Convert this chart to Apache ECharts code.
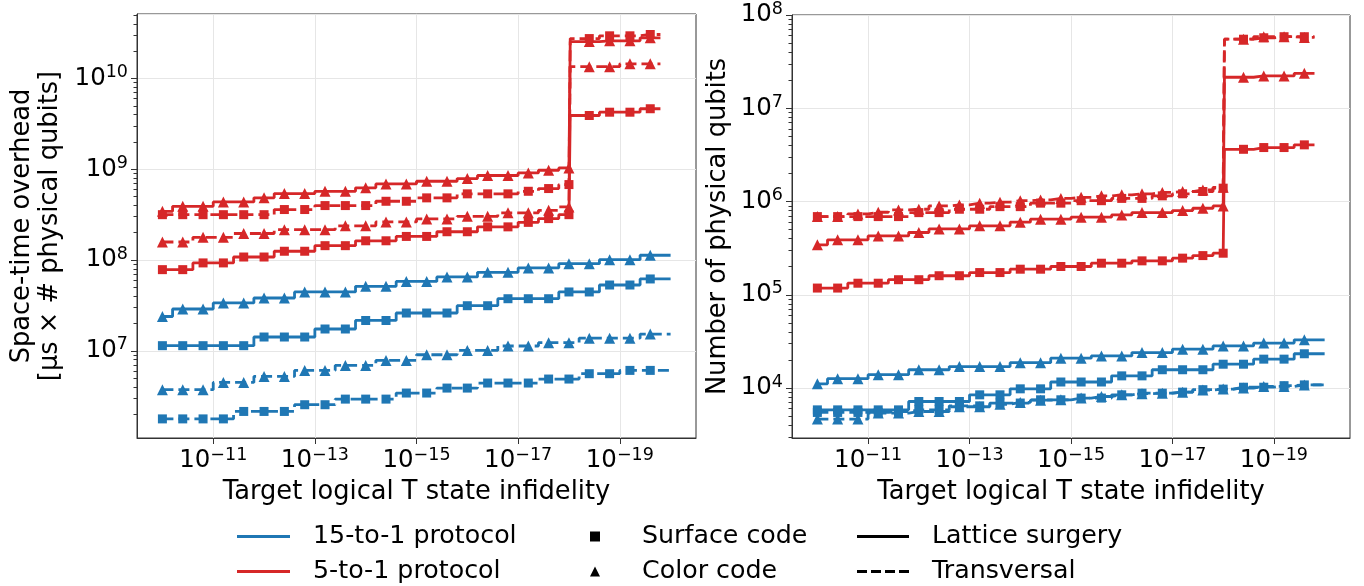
<!DOCTYPE html>
<html>
<head>
<meta charset="utf-8">
<script src="https://cdn.jsdelivr.net/npm/echarts@6/dist/echarts.min.js"></script>
<style>
  html, body { margin: 0; padding: 0; background: #fff; }
  #chart { width: 1364px; height: 586px; }
</style>
</head>
<body>
<div id="chart"></div>
<script>
// Target logical T state infidelity, as exponents e (infidelity = 10^e), at the marker positions
const infidelityExp = [-10, -10.4, -10.8, -11.2, -11.6, -12, -12.4, -12.8, -13.2, -13.6, -14, -14.4, -14.8,
  -15.2, -15.6, -16, -16.4, -16.8, -17.2, -17.6, -18, -18.4, -18.8, -19.2, -19.6];
const jumpExp = -18.05;      // 5-to-1 curves switch branch just past 1e-18
const lastExp15 = -20;       // 15-to-1 curves run out to 1e-20
const lastExp5 = -19.8;      // 5-to-1 curves stop slightly earlier
const xTickExp = [-11, -13, -15, -17, -19];

// Space-time overhead [µs × # physical qubits]
const st15SurfaceLS = [1.14e7, 1.14e7, 1.14e7, 1.14e7, 1.14e7, 1.42e7, 1.42e7, 1.42e7, 1.74e7, 1.74e7, 2.16e7, 2.16e7,
  2.61e7, 2.61e7, 2.61e7, 3.14e7, 3.14e7, 3.75e7, 3.75e7, 3.75e7, 4.45e7, 4.45e7, 5.31e7, 5.31e7, 6.19e7];
const st15ColorLS = [2.39e7, 2.89e7, 2.89e7, 3.37e7, 3.37e7, 3.82e7, 3.82e7, 4.45e7, 4.45e7, 4.45e7, 5.13e7, 5.13e7,
  5.82e7, 5.82e7, 6.51e7, 6.51e7, 7.33e7, 7.33e7, 8.19e7, 8.19e7, 9.12e7, 9.12e7, 1.01e8, 1.01e8, 1.13e8];
const st15SurfaceTV = [1.78e6, 1.78e6, 1.78e6, 1.78e6, 2.15e6, 2.15e6, 2.15e6, 2.55e6, 2.55e6, 2.94e6, 2.94e6, 2.94e6,
  3.43e6, 3.43e6, 3.89e6, 3.89e6, 4.42e6, 4.42e6, 4.42e6, 4.89e6, 4.89e6, 5.6e6, 5.6e6, 6.09e6, 6.09e6];
const st15ColorTV = [3.73e6, 3.73e6, 3.73e6, 4.49e6, 4.49e6, 5.23e6, 5.23e6, 6.09e6, 6.09e6, 6.91e6, 6.91e6, 7.84e6,
  7.84e6, 9.06e6, 9.06e6, 1.01e7, 1.01e7, 1.13e7, 1.13e7, 1.23e7, 1.23e7, 1.38e7, 1.38e7, 1.38e7, 1.53e7];
const st5SurfaceLS = [7.84e7, 7.84e7, 9.3e7, 9.3e7, 1.08e8, 1.08e8, 1.25e8, 1.25e8, 1.44e8, 1.44e8, 1.63e8, 1.63e8,
  1.82e8, 1.82e8, 2.05e8, 2.05e8, 2.32e8, 2.32e8, 2.6e8, 2.86e8, 3.16e8, 3.91e9, 4.25e9, 4.25e9, 4.64e9];
const st5ColorLS = [3.44e8, 3.91e8, 3.91e8, 4.37e8, 4.37e8, 4.84e8, 5.4e8, 5.4e8, 5.72e8, 5.72e8, 6.24e8, 6.9e8,
  6.9e8, 7.38e8, 7.38e8, 7.9e8, 8.53e8, 8.53e8, 9.12e8, 9.75e8, 1.035e9, 2.55e10, 2.6e10, 2.6e10, 2.8e10];
const st5SurfaceTV = [3.16e8, 3.16e8, 3.16e8, 3.16e8, 3.16e8, 3.16e8, 3.6e8, 3.6e8, 3.98e8, 3.98e8, 3.98e8, 4.44e8,
  4.44e8, 4.84e8, 4.84e8, 5.36e8, 5.36e8, 5.36e8, 5.72e8, 6.13e8, 6.78e8, 2.75e10, 2.95e10, 2.95e10, 3.05e10];
const st5ColorTV = [1.58e8, 1.58e8, 1.78e8, 1.78e8, 1.96e8, 1.96e8, 2.16e8, 2.16e8, 2.16e8, 2.38e8, 2.38e8, 2.63e8,
  2.63e8, 2.84e8, 2.84e8, 3.03e8, 3.03e8, 3.31e8, 3.31e8, 3.53e8, 3.85e8, 1.35e10, 1.35e10, 1.45e10, 1.45e10];

// Number of physical qubits
const nq15SurfaceLS = [5.83e3, 5.83e3, 5.83e3, 5.83e3, 5.83e3, 7.17e3, 7.17e3, 7.17e3, 8.45e3, 8.45e3, 9.8e3, 9.8e3,
  1.16e4, 1.16e4, 1.16e4, 1.35e4, 1.35e4, 1.57e4, 1.57e4, 1.57e4, 1.8e4, 1.8e4, 2.04e4, 2.04e4, 2.33e4];
const nq15ColorLS = [1.11e4, 1.26e4, 1.26e4, 1.39e4, 1.39e4, 1.57e4, 1.57e4, 1.7e4, 1.7e4, 1.7e4, 1.87e4, 1.87e4,
  2.09e4, 2.09e4, 2.21e4, 2.21e4, 2.4e4, 2.4e4, 2.61e4, 2.61e4, 2.83e4, 2.83e4, 3.03e4, 3.03e4, 3.29e4];
const nq15SurfaceTV = [5.47e3, 5.47e3, 5.47e3, 5.47e3, 5.6e3, 5.83e3, 5.83e3, 6.44e3, 6.44e3, 6.9e3, 6.9e3, 7.48e3,
  7.48e3, 7.8e3, 7.8e3, 8.45e3, 8.81e3, 8.81e3, 9.03e3, 9.6e3, 9.73e3, 1.02e4, 1.02e4, 1.06e4, 1.08e4];
const nq15ColorTV = [4.64e3, 4.64e3, 4.64e3, 5.38e3, 5.38e3, 5.6e3, 5.6e3, 6.3e3, 6.3e3, 6.7e3, 7.0e3, 7.4e3,
  7.48e3, 7.8e3, 8.11e3, 8.45e3, 8.7e3, 8.81e3, 9.03e3, 9.5e3, 9.73e3, 1.0e4, 1.04e4, 1.04e4, 1.08e4];
const nq5SurfaceLS = [1.18e5, 1.18e5, 1.33e5, 1.33e5, 1.45e5, 1.45e5, 1.6e5, 1.6e5, 1.73e5, 1.73e5, 1.88e5, 1.88e5,
  2.01e5, 2.01e5, 2.18e5, 2.18e5, 2.31e5, 2.31e5, 2.47e5, 2.63e5, 2.79e5, 3.63e6, 3.79e6, 3.79e6, 4.05e6];
const nq5ColorLS = [3.43e5, 3.88e5, 3.88e5, 4.27e5, 4.27e5, 4.65e5, 5.08e5, 5.08e5, 5.48e5, 5.48e5, 6.0e5, 6.46e5,
  6.46e5, 6.79e5, 6.79e5, 7.18e5, 7.6e5, 7.6e5, 8.0e5, 8.47e5, 8.97e5, 2.15e7, 2.22e7, 2.22e7, 2.37e7];
const nq5SurfaceTV = [6.89e5, 6.89e5, 6.89e5, 6.89e5, 6.89e5, 7.6e5, 7.6e5, 8.26e5, 8.26e5, 8.81e5, 8.81e5, 9.6e5,
  9.6e5, 1.02e6, 1.02e6, 1.08e6, 1.08e6, 1.15e6, 1.21e6, 1.28e6, 1.39e6, 5.5e7, 5.7e7, 5.85e7, 5.85e7];
const nq5ColorTV = [6.89e5, 6.89e5, 7.36e5, 7.67e5, 8.13e5, 8.26e5, 8.97e5, 9.2e5, 9.6e5, 9.84e5, 1.02e6, 1.04e6,
  1.08e6, 1.11e6, 1.15e6, 1.18e6, 1.21e6, 1.25e6, 1.28e6, 1.33e6, 1.42e6, 5.5e7, 5.85e7, 5.85e7, 5.75e7];

const FONT = 'DejaVu Sans';
const BLUE = '#1f77b4';
const RED = '#d62728';
const AXIS = '#333';
const GRIDLINE = '#e6e6e6';
const TITLE_SIZE = 25.7;
const LEGEND_SIZE = 25.3;

const tickRich = {
  b: { fontSize: 24.5, fontFamily: FONT, color: '#000', lineHeight: 30 },
  s: { fontSize: 17.5, fontFamily: FONT, color: '#000', lineHeight: 20, verticalAlign: 'top' }
};
function powLabel(exp) {
  return '{b|10}{s|' + (exp < 0 ? '\u2212' + (-exp) : exp) + '}';
}
function minorTicks(lo, hi) {
  const out = [];
  for (let n = Math.floor(lo); n <= Math.ceil(hi); n++) {
    for (let k = 2; k <= 9; k++) {
      const t = n + Math.log10(k);
      if (t > lo && t < hi) out.push(t);
    }
  }
  return out;
}

function curve(values, grid, protocol, code, scheme) {
  const color = protocol === '15-to-1' ? BLUE : RED;
  const pts = values.map((v, i) => [infidelityExp[i], v]);
  if (protocol === '5-to-1') pts.splice(21, 0, { value: [jumpExp, values[21]], symbol: 'none' });
  pts.push({ value: [protocol === '15-to-1' ? lastExp15 : lastExp5, values[values.length - 1]], symbol: 'none' });
  return {
    type: 'line',
    name: protocol + ' / ' + code + ' / ' + scheme,
    xAxisIndex: grid,
    yAxisIndex: grid * 3,
    data: pts,
    step: 'middle',
    symbol: code === 'surface' ? 'rect' : 'triangle',
    symbolSize: code === 'surface' ? 9 : 11,
    lineStyle: { width: 2.8, color: color, type: scheme === 'LS' ? 'solid' : [11, 5] },
    itemStyle: { color: color },
    emphasis: { disabled: true },
    z: protocol === '15-to-1' ? 3 : 4
  };
}

function xAxisFor(grid) {
  return {
    type: 'value', gridIndex: grid, min: -20.5, max: -9.5, inverse: true,
    name: 'Target logical T state infidelity', nameLocation: 'middle', nameGap: 34,
    nameTextStyle: { fontSize: TITLE_SIZE, fontFamily: FONT, color: '#000', lineHeight: 28 },
    axisLine: { show: true, onZero: false, lineStyle: { color: AXIS } },
    axisTick: { show: true, customValues: xTickExp, length: 6, lineStyle: { color: AXIS } },
    axisLabel: { customValues: xTickExp, margin: 8, formatter: v => powLabel(v), rich: tickRich },
    splitLine: { show: true, lineStyle: { color: GRIDLINE, width: 1 } }
  };
}

function yAxesFor(grid, lo, hi, major, name, nameGap, showMax) {
  const plain = { axisLine: { show: false }, axisLabel: { show: false }, splitLine: { show: false } };
  return [
    {
      type: 'log', logBase: 10, gridIndex: grid, min: Math.pow(10, lo), max: Math.pow(10, hi),
      name: name, nameLocation: 'middle', nameRotate: 90, nameGap: nameGap,
      nameTextStyle: { fontSize: TITLE_SIZE, fontFamily: FONT, color: '#000', lineHeight: 28 },
      axisLine: { show: true, lineStyle: { color: AXIS } },
      axisTick: { show: false },
      axisLabel: {
        margin: 9, showMinLabel: false, showMaxLabel: showMax,
        formatter: v => powLabel(Math.round(Math.log10(v))), rich: tickRich
      },
      splitLine: { show: true, lineStyle: { color: GRIDLINE, width: 1 } }
    },
    Object.assign({ type: 'value', gridIndex: grid, min: lo, max: hi, position: 'left',
      axisTick: { show: true, customValues: major, length: 6, lineStyle: { color: AXIS } } }, plain),
    Object.assign({ type: 'value', gridIndex: grid, min: lo, max: hi, position: 'left',
      axisTick: { show: true, customValues: minorTicks(lo, hi), length: 3.5, lineStyle: { color: AXIS } } }, plain)
  ];
}

// Placeholder series so the three legend blocks have entries to show
const legendKeys = [
  { name: '15-to-1 protocol', color: BLUE },
  { name: '5-to-1 protocol', color: RED },
  { name: 'Surface code', color: '#000' },
  { name: 'Color code', color: '#000' },
  { name: 'Lattice surgery', color: '#000' },
  { name: 'Transversal', color: '#000' }
].map(k => ({ type: 'line', name: k.name, data: [], xAxisIndex: 0, yAxisIndex: 0,
  itemStyle: { color: k.color }, lineStyle: { color: k.color } }));

function legendText(padLeft) {
  return { fontSize: LEGEND_SIZE, fontFamily: FONT, color: '#000', lineHeight: 29, padding: [0, 0, 0, padLeft] };
}
const legendBase = { orient: 'vertical', top: 522, padding: 0, itemGap: 6, selectedMode: false };

const option = {
  animation: false,
  backgroundColor: '#fff',
  grid: [
    { left: 137, top: 14, width: 559, height: 424, show: true, borderColor: AXIS, borderWidth: 1, containLabel: false },
    { left: 792, top: 14, width: 558, height: 424, show: true, borderColor: AXIS, borderWidth: 1, containLabel: false }
  ],
  xAxis: [xAxisFor(0), xAxisFor(1)],
  yAxis: [].concat(
    yAxesFor(0, 6.04, 10.71, [7, 8, 9, 10], 'Space-time overhead\n[\u00b5s \u00d7 # physical qubits]', 73, false),
    yAxesFor(1, 3.464, 8, [4, 5, 6, 7, 8], 'Number of physical qubits', 60, true)
  ),
  legend: [
    Object.assign({}, legendBase, { left: 237, itemWidth: 53, itemHeight: 3, textStyle: legendText(18),
      data: [
        { name: '15-to-1 protocol', icon: 'path://M0,0H53V3H0Z', itemStyle: { color: BLUE } },
        { name: '5-to-1 protocol', icon: 'path://M0,0H53V3H0Z', itemStyle: { color: RED } }
      ] }),
    // marker keys: the group is placed by the marker's own edge, text sits 47px right of it
    Object.assign({}, legendBase, { left: 590, itemWidth: 50, itemHeight: 10, textStyle: legendText(17),
      data: [
        { name: 'Surface code', icon: 'path://M0,0H8V8H0Z', itemStyle: { color: '#000' } },
        { name: 'Color code', icon: 'path://M5,0L10,10L0,10Z', itemStyle: { color: '#000' } }
      ] }),
    Object.assign({}, legendBase, { left: 857, itemWidth: 52, itemHeight: 3, textStyle: legendText(18),
      data: [
        { name: 'Lattice surgery', icon: 'path://M0,0H52V3H0Z', itemStyle: { color: '#000' } },
        { name: 'Transversal', icon: 'path://M0,0H10V3H0Z M14,0H24V3H14Z M28,0H38V3H28Z M42,0H52V3H42Z', itemStyle: { color: '#000' } }
      ] })
  ],
  series: [
    curve(st15SurfaceLS, 0, '15-to-1', 'surface', 'LS'),
    curve(st15ColorLS, 0, '15-to-1', 'color', 'LS'),
    curve(st15SurfaceTV, 0, '15-to-1', 'surface', 'TV'),
    curve(st15ColorTV, 0, '15-to-1', 'color', 'TV'),
    curve(st5SurfaceLS, 0, '5-to-1', 'surface', 'LS'),
    curve(st5ColorLS, 0, '5-to-1', 'color', 'LS'),
    curve(st5SurfaceTV, 0, '5-to-1', 'surface', 'TV'),
    curve(st5ColorTV, 0, '5-to-1', 'color', 'TV'),
    curve(nq15SurfaceLS, 1, '15-to-1', 'surface', 'LS'),
    curve(nq15ColorLS, 1, '15-to-1', 'color', 'LS'),
    curve(nq15SurfaceTV, 1, '15-to-1', 'surface', 'TV'),
    curve(nq15ColorTV, 1, '15-to-1', 'color', 'TV'),
    curve(nq5SurfaceLS, 1, '5-to-1', 'surface', 'LS'),
    curve(nq5ColorLS, 1, '5-to-1', 'color', 'LS'),
    curve(nq5SurfaceTV, 1, '5-to-1', 'surface', 'TV'),
    curve(nq5ColorTV, 1, '5-to-1', 'color', 'TV')
  ].concat(legendKeys)
};

const chart = echarts.init(document.getElementById('chart'), null, { renderer: 'canvas' });
chart.setOption(option);
</script>
</body>
</html>
